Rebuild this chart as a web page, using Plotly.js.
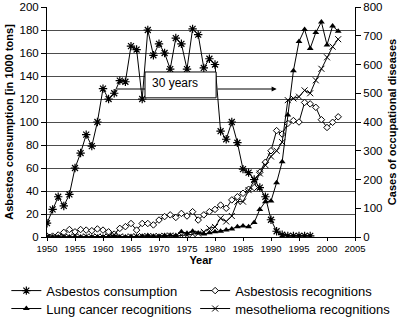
<!DOCTYPE html>
<html>
<head>
<meta charset="utf-8">
<script src="https://cdn.plot.ly/plotly-3.0.1.min.js"></script>
<style>html,body{margin:0;padding:0;background:#fff;}#chart{width:401px;height:319px;}</style>
</head>
<body>
<div id="chart"></div>
<script>
// ---- data ----
const consumptionYears = [1950,1951,1952,1953,1954,1955,1956,1957,1958,1959,1960,1961,1962,1963,1964,1965,1966,1967,1968,1969,1970,1971,1972,1973,1974,1975,1976,1977,1978,1979,1980,1981,1982,1983,1984,1985,1986,1987,1988,1989,1990,1991,1992,1993,1994,1995,1996,1997];
const asbestosConsumption = [12,24,35,27,37,60,73,89,79,100,129,120,125,136,135,166,163,120,180,158,168,160,146,173,168,146,181,176,147,155,150,92,85,100,82,59,56,50,43,35,15,5,2,1,1,1,1,1];

const caseYears = [1950,1951,1952,1953,1954,1955,1956,1957,1958,1959,1960,1961,1962,1963,1964,1965,1966,1967,1968,1969,1970,1971,1972,1973,1974,1975,1976,1977,1978,1979,1980,1981,1982,1983,1984,1985,1986,1987,1988,1989,1990,1991,1992,1993,1994,1995,1996,1997,1998,1999,2000,2001,2002];
const asbestosisRecognitions = [3,3,7,16,26,18,26,24,22,28,24,18,10,30,36,47,24,47,47,42,59,71,77,68,82,73,88,59,77,88,96,111,100,129,140,152,166,172,225,260,300,370,358,395,405,400,468,463,451,408,381,399,418];
const lungCancerRecognitions = [0,0,0,0,0,0,0,0,0,0,0,0,2,0,0,2,2,3,5,3,3,5,6,5,18,13,20,14,10,15,18,20,24,28,36,38,36,50,96,123,125,189,262,424,578,680,722,656,711,748,668,734,716];
const mesotheliomaRecognitions = [0,0,0,0,0,2,0,2,0,2,0,2,8,2,0,2,2,3,2,3,3,4,5,3,6,6,10,12,18,30,35,65,54,73,123,123,163,198,221,250,280,300,330,476,482,488,510,500,545,585,625,662,688];

const seriesNames = ["Asbestos consumption","Asbestosis recognitions","Lung cancer recognitions","mesothelioma recognitions"];
const xTitle = "Year";
const yLeftTitle = "Asbestos consumption [in 1000 tons]";
const yRightTitle = "Cases of occupational diseases";
const spanLabel = "30 years";
const spanStart = 1962.5, spanEnd = 1991, spanLevel = 128.7;

// ---- chart ----
const FONT = "Liberation Sans, Arial, sans-serif";
const lineStyle = {color:"#000", width:1};

const traces = [
  {x:consumptionYears, y:asbestosConsumption, name:seriesNames[0], yaxis:"y", mode:"lines+markers", legend:"legend",
   line:lineStyle, marker:{symbol:"asterisk-open", size:7, color:"#000", line:{color:"#000", width:1.2}}},
  {x:caseYears, y:asbestosisRecognitions, name:seriesNames[1], yaxis:"y2", mode:"lines+markers", legend:"legend2",
   line:lineStyle, marker:{symbol:"diamond", size:5, color:"#fff", line:{color:"#000", width:1}}},
  {x:caseYears, y:lungCancerRecognitions, name:seriesNames[2], yaxis:"y2", mode:"lines+markers", legend:"legend3",
   line:lineStyle, marker:{symbol:"triangle-up", size:6, color:"#000", line:{color:"#000", width:0}}},
  {x:caseYears, y:mesotheliomaRecognitions, name:seriesNames[3], yaxis:"y2", mode:"lines+markers", legend:"legend4",
   line:lineStyle, marker:{symbol:"x-thin-open", size:6, color:"#000", line:{color:"#000", width:1}}}
];

const legendCommon = {orientation:"v", yanchor:"top", xanchor:"left", font:{size:13, family:FONT},
  tracegroupgap:0, itemwidth:30, bgcolor:"rgba(0,0,0,0)"};
const col1 = -0.132, col2 = 0.481, row1 = -0.168, row2 = -0.246;

const layout = {
  width:401, height:319,
  margin:{l:47, r:46, t:7, b:82, autoexpand:false},
  paper_bgcolor:"#fff", plot_bgcolor:"#fff",
  font:{family:FONT, color:"#000", size:11},
  showlegend:true,
  xaxis:{range:[1950,2005], dtick:5, tick0:1950, showgrid:false, zeroline:false,
         showline:true, linecolor:"#000", linewidth:1, ticks:"outside", ticklen:3, tickcolor:"#000",
         tickfont:{size:9.5, family:FONT}, title:{text:xTitle, font:{size:11, family:FONT, weight:"bold"}, standoff:2}},
  yaxis:{range:[0,200], dtick:20, showgrid:true, gridcolor:"#4d4d4d", gridwidth:1, zeroline:false,
         showline:true, linecolor:"#000", linewidth:1, ticks:"outside", ticklen:5, tickcolor:"#000",
         tickfont:{size:11.5, family:FONT},
         title:{text:yLeftTitle, font:{size:11, family:FONT, weight:"bold"}, standoff:3}},
  yaxis2:{range:[0,800], dtick:100, overlaying:"y", side:"right", showgrid:false, zeroline:false,
          showline:true, linecolor:"#000", linewidth:1, ticks:"outside", ticklen:5, tickcolor:"#000",
          tickfont:{size:11.5, family:FONT},
          title:{text:yRightTitle, font:{size:11, family:FONT, weight:"bold"}, standoff:6}},
  legend:Object.assign({}, legendCommon, {x:col1, y:row1}),
  legend2:Object.assign({}, legendCommon, {x:col2, y:row1}),
  legend3:Object.assign({}, legendCommon, {x:col1, y:row2}),
  legend4:Object.assign({}, legendCommon, {x:col2, y:row2}),
  shapes:[
    {type:"line", xref:"x", yref:"y", x0:spanStart, x1:1980.2, y0:spanLevel, y1:spanLevel, line:{color:"#000", width:1}},
    {type:"rect", xref:"x", yref:"y", x0:1967.5, x1:1980.2, y0:121, y1:143.5, fillcolor:"#fff", line:{color:"#000", width:1}}
  ],
  annotations:[
    {xref:"x", yref:"y", x:spanEnd, y:spanLevel, ax:1980.2, ay:spanLevel, axref:"x", ayref:"y",
     text:"", showarrow:true, arrowhead:2, arrowsize:1, arrowwidth:1, arrowcolor:"#000"},
    {xref:"x", yref:"y", x:1972.9, y:133.7, text:spanLabel, showarrow:false, font:{size:12, family:FONT, color:"#000"}}
  ]
};

Plotly.newPlot("chart", traces, layout, {displayModeBar:false, staticPlot:true});
</script>
</body>
</html>
